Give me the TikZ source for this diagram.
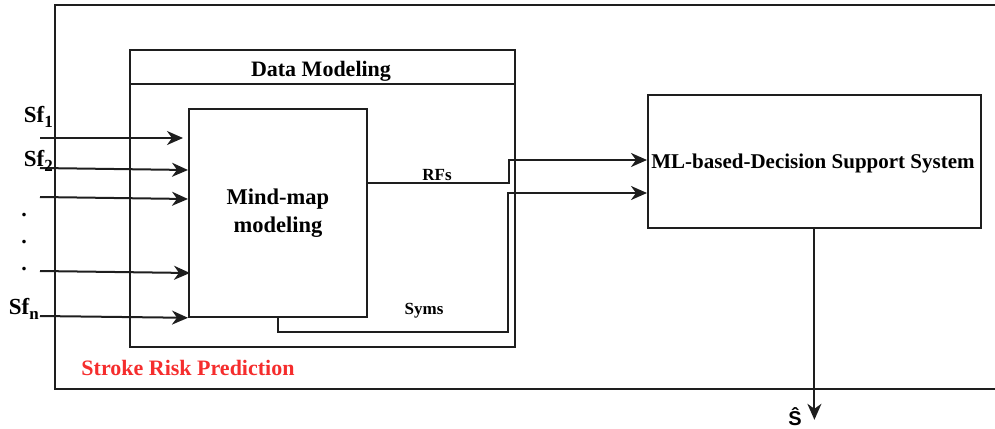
\documentclass[tikz,border=0pt]{standalone}
\usepackage{fontspec}
\setmainfont{Liberation Serif}
\newfontfamily\hatfont{Liberation Sans}
\usetikzlibrary{arrows.meta,calc}

\definecolor{linegray}{RGB}{30,30,30}
\definecolor{riskred}{RGB}{245,45,45}

\tikzset{
	box/.style={draw=linegray, line width=1.8pt, inner sep=0pt},
	flow/.style={draw=linegray, line width=2pt, -{Stealth[length=16pt,width=14pt,inset=5pt]}},
	lbl/.style={inner sep=0.75pt, font=\fontsize{22}{24}\selectfont\bfseries},
	small/.style={inner sep=0.75pt, font=\fontsize{17}{19}\selectfont\bfseries},
}

\begin{document}
\begin{tikzpicture}[x=1pt,y=1pt,yscale=-1]
	\useasboundingbox (0,0) rectangle (995,428);
	
	%Outer frame, open at the right
	\draw [linegray, line width=1.8pt] (996,5) -- (55,5) -- (55,389) -- (996,389);
	\node [lbl, text=riskred, anchor=base] (risk) at (188,375) {Stroke Risk Prediction};
	
	%Data modeling block
	\node [box, minimum width=385pt, minimum height=297pt, anchor=north west] (dm) at (129,49) {};
	\node [box, minimum width=385pt, minimum height=34pt, anchor=north west] (dmtitle) at (129,49) {};
	\node [lbl, anchor=base] (dmtext) at (321,76) {Data Modeling};
	\node [box, minimum width=178pt, minimum height=208pt, anchor=north west, align=center, font=\fontsize{22.5}{28}\selectfont\bfseries] (mm) at (188,108) {Mind-map\\modeling};
	
	%Decision support block
	\node [box, minimum width=333pt, minimum height=133pt, anchor=north west] (ml) at (647,94) {};
	\node [lbl, font=\fontsize{21}{24}\selectfont\bfseries, anchor=base] (mltext) at (813,168) {ML-based-Decision Support System};
	
	% Inputs
	\coordinate (s1) at (40,138);
	\coordinate (s2) at (40,168);
	\coordinate (s3) at (40,197);
	\coordinate (s4) at (40,271);
	\coordinate (s5) at (40,316);
	\draw [flow] (s1) -- ($(mm.north west)+(-5,30)$);
	\draw [flow] (s2) -- ($(mm.north west)+(0,62)$);
	\draw [flow] (s3) -- ($(mm.north west)+(0,91)$);
	\draw [flow] (s4) -- ($(mm.north west)+(2,165)$);
	\draw [flow] (s5) -- (mm.south west);
	
	\node [lbl, font=\fontsize{23}{24}\selectfont\bfseries, anchor=base west] (sf1) at (23,122) {Sf\raisebox{-5pt}{\fontsize{17}{17}\selectfont 1}};
	\node [lbl, font=\fontsize{23}{24}\selectfont\bfseries, anchor=base west] (sf2) at (23,166) {Sf\raisebox{-5pt}{\fontsize{17}{17}\selectfont 2}};
	\node [lbl, font=\fontsize{23}{24}\selectfont\bfseries, anchor=base west] (sfn) at (8,314) {Sf\raisebox{-5pt}{\fontsize{17}{17}\selectfont n}};
	\node [lbl, anchor=base] (dot1) at (24,216) {.};
	\node [lbl, anchor=base] (dot2) at (24,243) {.};
	\node [lbl, anchor=base] (dot3) at (24,270) {.};
	
	% Outputs of the mind-map
	\draw [flow] ($(mm.north east)+(0,75)$) -- ++(141,0) |- ($(ml.north west)+(0,66)$);
	\draw [flow] (mm.south) -- ++(0,14) -- ++(230,0) |- ($(ml.north west)+(0,99)$);
	\node [small, anchor=base] (rfs) at (437,180) {RFs};
	\node [small, anchor=base] (syms) at (424,314) {Syms};
	
	% Prediction
	\draw [flow] (ml.south) -- ++(0,191) coordinate (shat);
	\node [inner sep=0.75pt, anchor=base, font=\hatfont\fontsize{20}{22}\selectfont\bfseries] (slbl) at (795,425) {Ŝ};
\end{tikzpicture}
\end{document}
